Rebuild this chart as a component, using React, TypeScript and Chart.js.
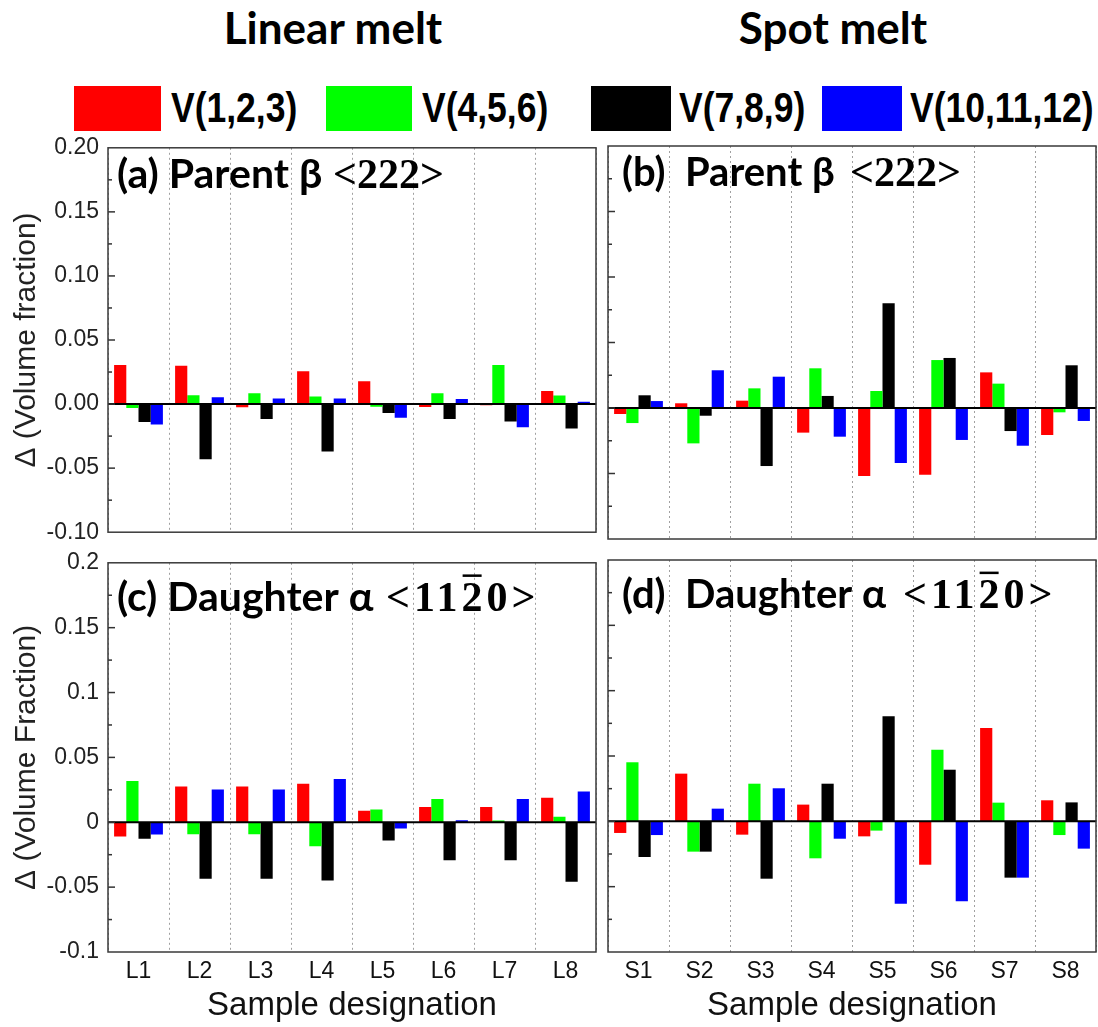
import React, { useEffect, useRef } from 'react';
import { Chart, registerables } from 'chart.js';
Chart.register(...registerables);

const SANS = '"Liberation Sans", Arial, Helvetica, sans-serif';
const LABEL_FONT = 'Lato, "Open Sans", sans-serif';
const SERIF = '"Liberation Serif", "DejaVu Serif", serif';

// Categories
const linearCategories = ['L1', 'L2', 'L3', 'L4', 'L5', 'L6', 'L7', 'L8'];
const spotCategories = ['S1', 'S2', 'S3', 'S4', 'S5', 'S6', 'S7', 'S8'];
const seriesNames = ['V(1,2,3)', 'V(4,5,6)', 'V(7,8,9)', 'V(10,11,12)'];
const seriesColors = ['#ff0000', '#00ff00', '#000000', '#0000ff'];

// (a) Parent beta <222>, linear melt
const parentLinearV123 = [0.0305, 0.030, -0.0025, 0.0257, 0.0178, -0.0023, -0.001, 0.0102];
const parentLinearV456 = [-0.003, 0.0069, 0.0084, 0.0059, -0.002, 0.0084, 0.0305, 0.0066];
const parentLinearV789 = [-0.014, -0.043, -0.0117, -0.037, -0.0069, -0.0117, -0.0137, -0.019];
const parentLinearV101112 = [-0.016, 0.0053, 0.0043, 0.0043, -0.0107, 0.004, -0.018, 0.0018];

// (b) Parent beta <222>, spot melt
const parentSpotV123 = [-0.0046, 0.0036, 0.0056, -0.0188, -0.052, -0.051, 0.0272, -0.0206];
const parentSpotV456 = [-0.0115, -0.027, 0.015, 0.0303, 0.013, 0.0366, 0.0186, -0.0033];
const parentSpotV789 = [0.0097, -0.0059, -0.0443, 0.0092, 0.0799, 0.0382, -0.0176, 0.0326];
const parentSpotV101112 = [0.0053, 0.0288, 0.0239, -0.0219, -0.042, -0.0244, -0.0288, -0.0099];

// (c) Daughter alpha <11-20>, linear melt
const daughterLinearV123 = [-0.011, 0.0276, 0.0276, 0.0296, 0.0089, 0.0117, 0.0117, 0.0189];
const daughterLinearV456 = [0.0319, -0.0092, -0.0092, -0.0184, 0.0099, 0.0179, 0.0013, 0.0043];
const daughterLinearV789 = [-0.0128, -0.0436, -0.0436, -0.0449, -0.014, -0.0293, -0.0293, -0.0459];
const daughterLinearV101112 = [-0.0094, 0.0253, 0.0253, 0.0334, -0.0048, 0.0015, 0.0179, 0.0237];

// (d) Daughter alpha <11-20>, spot melt
const daughterSpotV123 = [-0.0089, 0.0365, -0.0102, 0.0128, -0.0115, -0.0332, 0.0714, 0.0161];
const daughterSpotV456 = [0.0452, -0.0232, 0.0288, -0.0283, -0.0071, 0.0548, 0.0143, -0.0105];
const daughterSpotV789 = [-0.0273, -0.0232, -0.0439, 0.0288, 0.0804, 0.0395, -0.0431, 0.0145];
const daughterSpotV101112 = [-0.0105, 0.0097, 0.0253, -0.0133, -0.063, -0.0612, -0.0431, -0.0209];

// Y ticks
const yTickValues = [-0.1, -0.05, 0, 0.05, 0.1, 0.15, 0.2];
const yTickLabelsParent = ['-0.10', '-0.05', '0.00', '0.05', '0.10', '0.15', '0.20'];
const yTickLabelsDaughter = ['-0.1', '-0.05', '0', '0.05', '0.1', '0.15', '0.2'];

const decorPlugin = {
  id: 'decor',
  afterDatasetsDraw(chart: any, _args: any, o: any) {
    const { ctx, chartArea: a } = chart;
    const ys = chart.scales.y;
    ctx.save();
    // zero line
    const y0 = ys.getPixelForValue(0);
    ctx.strokeStyle = '#000';
    ctx.lineWidth = 2;
    ctx.beginPath();
    ctx.moveTo(a.left, y0);
    ctx.lineTo(a.right, y0);
    ctx.stroke();
    // inward ticks
    ctx.strokeStyle = '#333';
    ctx.lineWidth = 1.5;
    const n = Math.round((ys.max - ys.min) / 0.025);
    for (let k = 1; k < n; k++) {
      const v = ys.min + k * 0.025;
      const py = ys.getPixelForValue(v);
      const len = k % 2 === 0 ? 7 : 4;
      ctx.beginPath();
      ctx.moveTo(a.left, py);
      ctx.lineTo(a.left + len, py);
      ctx.stroke();
    }
    // frame
    ctx.strokeStyle = '#3a3a3a';
    ctx.lineWidth = 1.5;
    ctx.strokeRect(a.left, a.top, a.right - a.left, a.bottom - a.top);
    // panel label
    ctx.fillStyle = '#000';
    ctx.textBaseline = 'alphabetic';
    ctx.textAlign = 'left';
    ctx.font = `bold ${o.sansSize}px ${LABEL_FONT}`;
    const x0 = a.left + o.dx;
    const bl = a.top + o.dy;
    ctx.fillText(o.text, x0, bl);
    ctx.font = `bold ${o.serifSize}px ${SERIF}`;
    const sp = o.spacing || 0;
    (ctx as any).letterSpacing = sp + 'px';
    const sx = x0 + o.serifX;
    ctx.fillText(o.serif, sx, bl);
    if (o.overline >= 0) {
      const pre = ctx.measureText(o.serif.slice(0, o.overline)).width;
      const cw = ctx.measureText(o.serif.charAt(o.overline)).width - sp;
      ctx.fillRect(sx + pre + 1, bl - o.serifSize * 0.676 - 8, cw - 2, 2.5);
    }
    ctx.restore();
  },
};

type PanelProps = {
  left: number;
  top: number;
  w: number;
  h: number;
  categories: string[];
  series: number[][];
  padding: { top: number; bottom: number; left: number; right: number };
  yWidth: number;
  xHeight: number;
  yLabels?: string[];
  yTitle?: string;
  showX: boolean;
  xTitle?: string;
  decor: any;
};

function Panel(p: PanelProps) {
  const ref = useRef<HTMLCanvasElement>(null);
  useEffect(() => {
    const chart = new Chart(ref.current as HTMLCanvasElement, {
      type: 'bar',
      data: {
        labels: p.categories,
        datasets: p.series.map((d, i) => ({
          label: seriesNames[i],
          data: d,
          backgroundColor: seriesColors[i],
          borderWidth: 0,
          categoryPercentage: 0.8,
          barPercentage: 1.0,
        })),
      },
      options: {
        animation: false,
        responsive: false,
        devicePixelRatio: 1,
        layout: { padding: p.padding },
        plugins: {
          legend: { display: false },
          tooltip: { enabled: false },
          decor: p.decor,
        } as any,
        scales: {
          x: {
            grid: { display: true, offset: true, drawTicks: false, color: '#a0a0a0', lineWidth: 1 },
            border: { display: false, dash: [2, 3] },
            ticks: { display: p.showX, padding: 6, font: { size: 23, family: SANS }, color: '#111' },
            title: {
              display: !!p.xTitle,
              text: p.xTitle || '',
              font: { size: 33, family: SANS },
              color: '#111',
              padding: { top: 0, bottom: 1 },
            },
            afterFit: (s: any) => {
              s.height = p.xHeight;
            },
          },
          y: {
            type: 'linear',
            min: -0.1,
            max: 0.2,
            afterBuildTicks: (s: any) => {
              s.ticks = yTickValues.map((v) => ({ value: v }));
            },
            grid: { display: false, drawTicks: false },
            border: { display: false },
            ticks: {
              display: !!p.yLabels,
              padding: 9,
              font: { size: 23, family: SANS },
              color: '#222',
              callback: (_v: any, i: number) => (p.yLabels ? p.yLabels[i] : ''),
            },
            title: {
              display: !!p.yTitle,
              text: p.yTitle || '',
              font: { size: 30, family: SANS },
              color: '#222',
              padding: { top: 9, bottom: 0 },
            },
            afterFit: (s: any) => {
              s.width = p.yWidth;
            },
          },
        },
      } as any,
      plugins: [decorPlugin as any],
    });
    return () => chart.destroy();
  }, []);
  return (
    <canvas
      ref={ref}
      width={p.w}
      height={p.h}
      style={{ position: 'absolute', left: p.left, top: p.top, width: p.w, height: p.h }}
    />
  );
}

const legendItems = [
  { box: 74, bw: 87, text: 171 },
  { box: 326, bw: 86, text: 422 },
  { box: 591, bw: 80, text: 679 },
  { box: 822, bw: 80, text: 910 },
];

export default function App() {
  const headerStyle: React.CSSProperties = {
    position: 'absolute',
    top: 5,
    width: 666,
    textAlign: 'center',
    font: `bold 44px ${LABEL_FONT}`,
    lineHeight: '44px',
    color: '#000',
    whiteSpace: 'nowrap',
  };
  return (
    <div
      style={{
        position: 'absolute',
        left: 0,
        top: 0,
        width: 1098,
        height: 1027,
        background: '#fff',
        overflow: 'hidden',
      }}
    >
      <div style={{ ...headerStyle, left: 0 }}>Linear melt</div>
      <div style={{ ...headerStyle, left: 500 }}>Spot melt</div>
      {legendItems.map((it, i) => (
        <React.Fragment key={i}>
          <div
            style={{
              position: 'absolute',
              left: it.box,
              top: 86,
              width: it.bw,
              height: 45,
              background: seriesColors[i],
            }}
          />
          <div
            style={{
              position: 'absolute',
              left: it.text,
              top: 90,
              font: `bold 35.5px ${SANS}`,
              lineHeight: '37px',
              color: '#000',
              whiteSpace: 'nowrap',
              transform: 'scaleY(1.18)',
              transformOrigin: 'left center',
            }}
          >
            {seriesNames[i]}
          </div>
        </React.Fragment>
      ))}
      <Panel
        left={0}
        top={125}
        w={600}
        h={430}
        categories={linearCategories}
        series={[parentLinearV123, parentLinearV456, parentLinearV789, parentLinearV101112]}
        padding={{ top: 21, bottom: 16, left: 0, right: 4 }}
        yWidth={108}
        xHeight={0}
        yLabels={yTickLabelsParent}
        yTitle="Δ (Volume fraction)"
        showX={false}
        decor={{ text: '(a) Parent β', serif: '<222>', sansSize: 41, serifSize: 42, dx: 9, dy: 40, serifX: 216, spacing: 0, overline: -1 }}
      />
      <Panel
        left={600}
        top={125}
        w={498}
        h={430}
        categories={spotCategories}
        series={[parentSpotV123, parentSpotV456, parentSpotV789, parentSpotV101112]}
        padding={{ top: 21, bottom: 16, left: 0, right: 2 }}
        yWidth={8}
        xHeight={0}
        showX={false}
        decor={{ text: '(b)  Parent β', serif: '<222>', sansSize: 40, serifSize: 42, dx: 14, dy: 40, serifX: 228, spacing: 0, overline: -1 }}
      />
      <Panel
        left={0}
        top={540}
        w={600}
        h={487}
        categories={linearCategories}
        series={[daughterLinearV123, daughterLinearV456, daughterLinearV789, daughterLinearV101112]}
        padding={{ top: 20, bottom: 0, left: 0, right: 4 }}
        yWidth={108}
        xHeight={75}
        yLabels={yTickLabelsDaughter}
        yTitle="Δ (Volume Fraction)"
        showX={true}
        xTitle="Sample designation"
        decor={{ text: '(c) Daughter α', serif: '<1120>', sansSize: 41, serifSize: 42, dx: 9, dy: 48, serifX: 269, spacing: 4, overline: 3 }}
      />
      <Panel
        left={600}
        top={540}
        w={498}
        h={487}
        categories={spotCategories}
        series={[daughterSpotV123, daughterSpotV456, daughterSpotV789, daughterSpotV101112]}
        padding={{ top: 20, bottom: 0, left: 0, right: 2 }}
        yWidth={8}
        xHeight={75}
        showX={true}
        xTitle="Sample designation"
        decor={{ text: '(d)  Daughter α', serif: '<1120>', sansSize: 40, serifSize: 42, dx: 14, dy: 48, serifX: 281, spacing: 4, overline: 3 }}
      />
    </div>
  );
}
